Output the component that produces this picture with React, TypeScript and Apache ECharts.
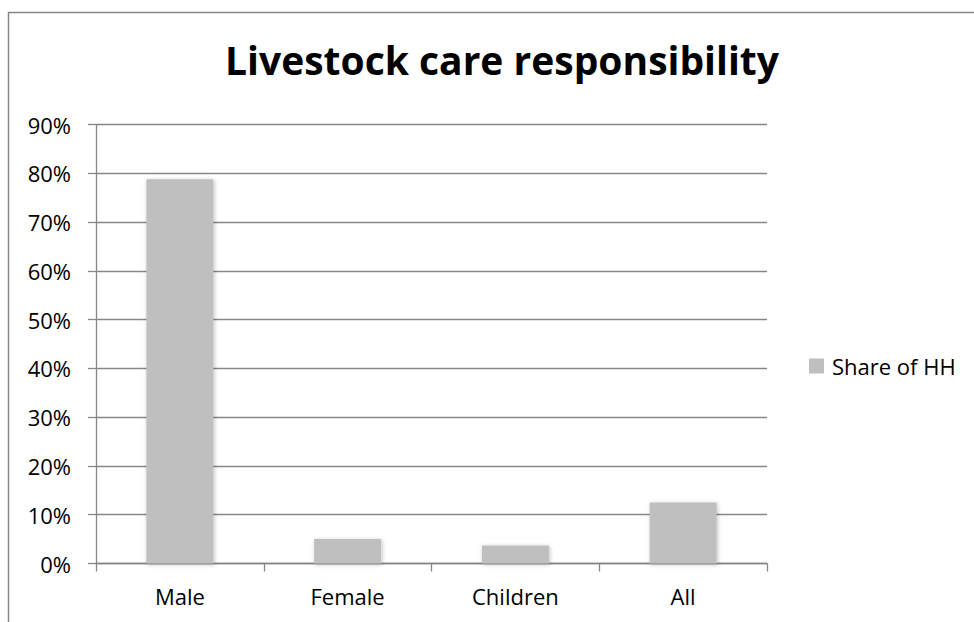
import React, { useEffect, useRef } from "react";
import * as echarts from "echarts";

const categories = ["Male", "Female", "Children", "All"];
const shareOfHH = [78.8, 5.0, 3.7, 12.5];
const seriesName = "Share of HH";
const chartTitle = "Livestock care responsibility";

const AXIS_GRAY = "#868686";
const FONT = "'Open Sans', Lato, sans-serif";

export default function App() {
  const ref = useRef<HTMLDivElement>(null);

  useEffect(() => {
    if (!ref.current) return;
    const chart = echarts.init(ref.current, undefined, { renderer: "svg" });
    chart.setOption({
      animation: false,
      backgroundColor: "#ffffff",
      title: {
        text: chartTitle,
        left: 497,
        top: 35,
        textAlign: "center",
        textStyle: { fontFamily: FONT, fontWeight: "bold", fontSize: 39, color: "#000" },
      },
      legend: {
        data: [seriesName],
        left: 804,
        top: 350,
        itemWidth: 15,
        itemHeight: 15,
        icon: "rect",
        textStyle: { fontFamily: FONT, fontSize: 22, color: "#000", padding: [0, 0, 0, 3] },
      },
      grid: { left: 96, right: 207, top: 124.7, bottom: 58.5, containLabel: false },
      xAxis: {
        type: "category",
        data: categories,
        boundaryGap: true,
        axisLine: { show: true, lineStyle: { color: AXIS_GRAY, width: 1.3 } },
        axisTick: { show: true, length: 8, interval: 0, lineStyle: { color: AXIS_GRAY, width: 1.3 } },
        axisLabel: { margin: 21, fontFamily: FONT, fontSize: 22, color: "#000" },
      },
      yAxis: {
        type: "value",
        min: 0,
        max: 90,
        interval: 10,
        axisLine: { show: true, lineStyle: { color: AXIS_GRAY, width: 1.3 } },
        axisTick: { show: true, length: 8, lineStyle: { color: AXIS_GRAY, width: 1.3 } },
        splitLine: { show: true, lineStyle: { color: AXIS_GRAY, width: 1.3 } },
        axisLabel: { formatter: "{value}%", margin: 25, fontFamily: FONT, fontSize: 22, color: "#000" },
      },
      series: [
        {
          name: seriesName,
          type: "bar",
          data: shareOfHH,
          barWidth: 67,
          itemStyle: {
            color: "#bfbfbf",
            shadowBlur: 4,
            shadowColor: "rgba(0,0,0,0.25)",
            shadowOffsetX: 1,
            shadowOffsetY: 1,
          },
        },
      ],
      graphic: [
        {
          type: "rect",
          silent: true,
          shape: { x: 8.5, y: 12.5, width: 1100, height: 800 },
          style: { fill: "none", stroke: AXIS_GRAY, lineWidth: 1.5 },
        },
      ],
    });
    return () => chart.dispose();
  }, []);

  return (
    <div
      ref={ref}
      style={{ position: "absolute", left: 0, top: 0, width: 974, height: 622 }}
    />
  );
}
